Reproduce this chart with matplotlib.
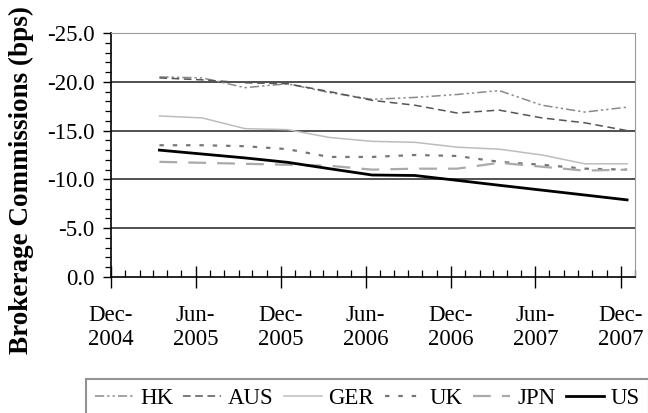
# Brokerage commissions by market, quarterly, Dec-2004 to Dec-2007
import pandas as pd
import numpy as np
import matplotlib
matplotlib.use("Agg")
import matplotlib.pyplot as plt
import matplotlib.dates as mdates
from matplotlib.ticker import MultipleLocator, FormatStrFormatter

plt.rcParams["font.family"] = ["Liberation Serif", "DejaVu Serif"]

# quarterly observations (mid-month of each quarter end)
quarters = ["2005-03-15", "2005-06-15", "2005-09-15", "2005-12-15",
            "2006-03-15", "2006-06-15", "2006-09-15", "2006-12-15",
            "2007-03-15", "2007-06-15", "2007-09-15", "2007-12-15"]

hk = [-20.5, -20.4, -19.4, -19.8, -18.9, -18.2, -18.4, -18.7, -19.1, -17.6, -16.9, -17.4]
aus = [-20.4, -20.2, -19.9, -19.8, -19.0, -18.1, -17.6, -16.8, -17.1, -16.3, -15.8, -15.0]
ger = [-16.5, -16.3, -15.2, -15.1, -14.3, -13.9, -13.8, -13.3, -13.1, -12.5, -11.6, -11.6]
uk = [-13.5, -13.5, -13.4, -13.1, -12.3, -12.3, -12.5, -12.4, -11.8, -11.5, -11.1, -11.0]
jpn = [-11.8, -11.7, -11.6, -11.5, -11.4, -11.0, -11.1, -11.1, -11.7, -11.3, -10.9, -11.0]
us = [-13.0, -12.6, -12.2, -11.75, -11.1, -10.45, -10.4, -9.9, -9.4, -8.9, -8.4, -7.9]

dates = pd.to_datetime(quarters)

fig = plt.figure(figsize=(6.48, 4.13), dpi=100)
ax = fig.add_axes([111 / 648, 1 - 277 / 413, 524 / 648, 244 / 413])

ax.plot(dates, hk, color="#8a8a8a", lw=1.1, dashes=(6, 2, 1.5, 2, 1.5, 2), label="HK")
ax.plot(dates, aus, color="#555555", lw=1.1, dashes=(5, 3), label="AUS")
ax.plot(dates, ger, color="#bdbdbd", lw=1.1, label="GER")
ax.plot(dates, uk, color="#777777", lw=1.6, dashes=(2, 4), label="UK")
ax.plot(dates, jpn, color="#aaaaaa", lw=1.6, dashes=(8, 5), label="JPN")
ax.plot(dates, us, color="black", lw=2.0, label="US")

# value axis runs from 0 at the bottom to -25 at the top
ax.set_ylim(0, -25)
ax.yaxis.set_major_locator(MultipleLocator(5))
ax.yaxis.set_minor_locator(MultipleLocator(1))
ax.yaxis.set_major_formatter(FormatStrFormatter("%.1f"))
for y in [-5, -10, -15, -20]:
    ax.axhline(y, color="#505050", lw=1.4, zorder=0)

ax.set_xlim(pd.Timestamp("2004-12-01"), pd.Timestamp("2008-01-01"))
ax.xaxis.set_major_locator(mdates.MonthLocator(bymonth=[6, 12]))
ax.xaxis.set_minor_locator(mdates.MonthLocator())
ax.xaxis.set_major_formatter(mdates.DateFormatter("%b-\n%Y"))

ax.tick_params(axis="x", which="major", direction="inout", length=16, width=1.0, pad=12, labelsize=16.5)
ax.tick_params(axis="x", which="minor", direction="in", length=5, width=0.9)
ax.tick_params(axis="y", which="major", direction="out", length=6, width=1.0, pad=6, labelsize=16.5)
ax.tick_params(axis="y", which="minor", direction="out", length=4, width=0.9)

ax.spines["left"].set_linewidth(1.2)
ax.spines["bottom"].set_linewidth(1.2)
ax.spines["top"].set_color("#999999")
ax.spines["right"].set_color("#999999")

fig.text(21 / 648, 1 - 180 / 413, "Brokerage Commissions (bps)", rotation=90,
         ha="center", va="center", fontsize=19.5, fontweight="bold")

leg = fig.legend(loc="upper left", bbox_to_anchor=(86 / 648, 1 - 379 / 413), ncol=6,
                 fontsize=16.5, frameon=True, fancybox=False, edgecolor="#777777",
                 handlelength=1.65, handletextpad=0.3, columnspacing=0.45,
                 borderpad=0.4, borderaxespad=0)
leg.get_frame().set_linewidth(1.5)

fig.savefig("out.png", dpi=100)
